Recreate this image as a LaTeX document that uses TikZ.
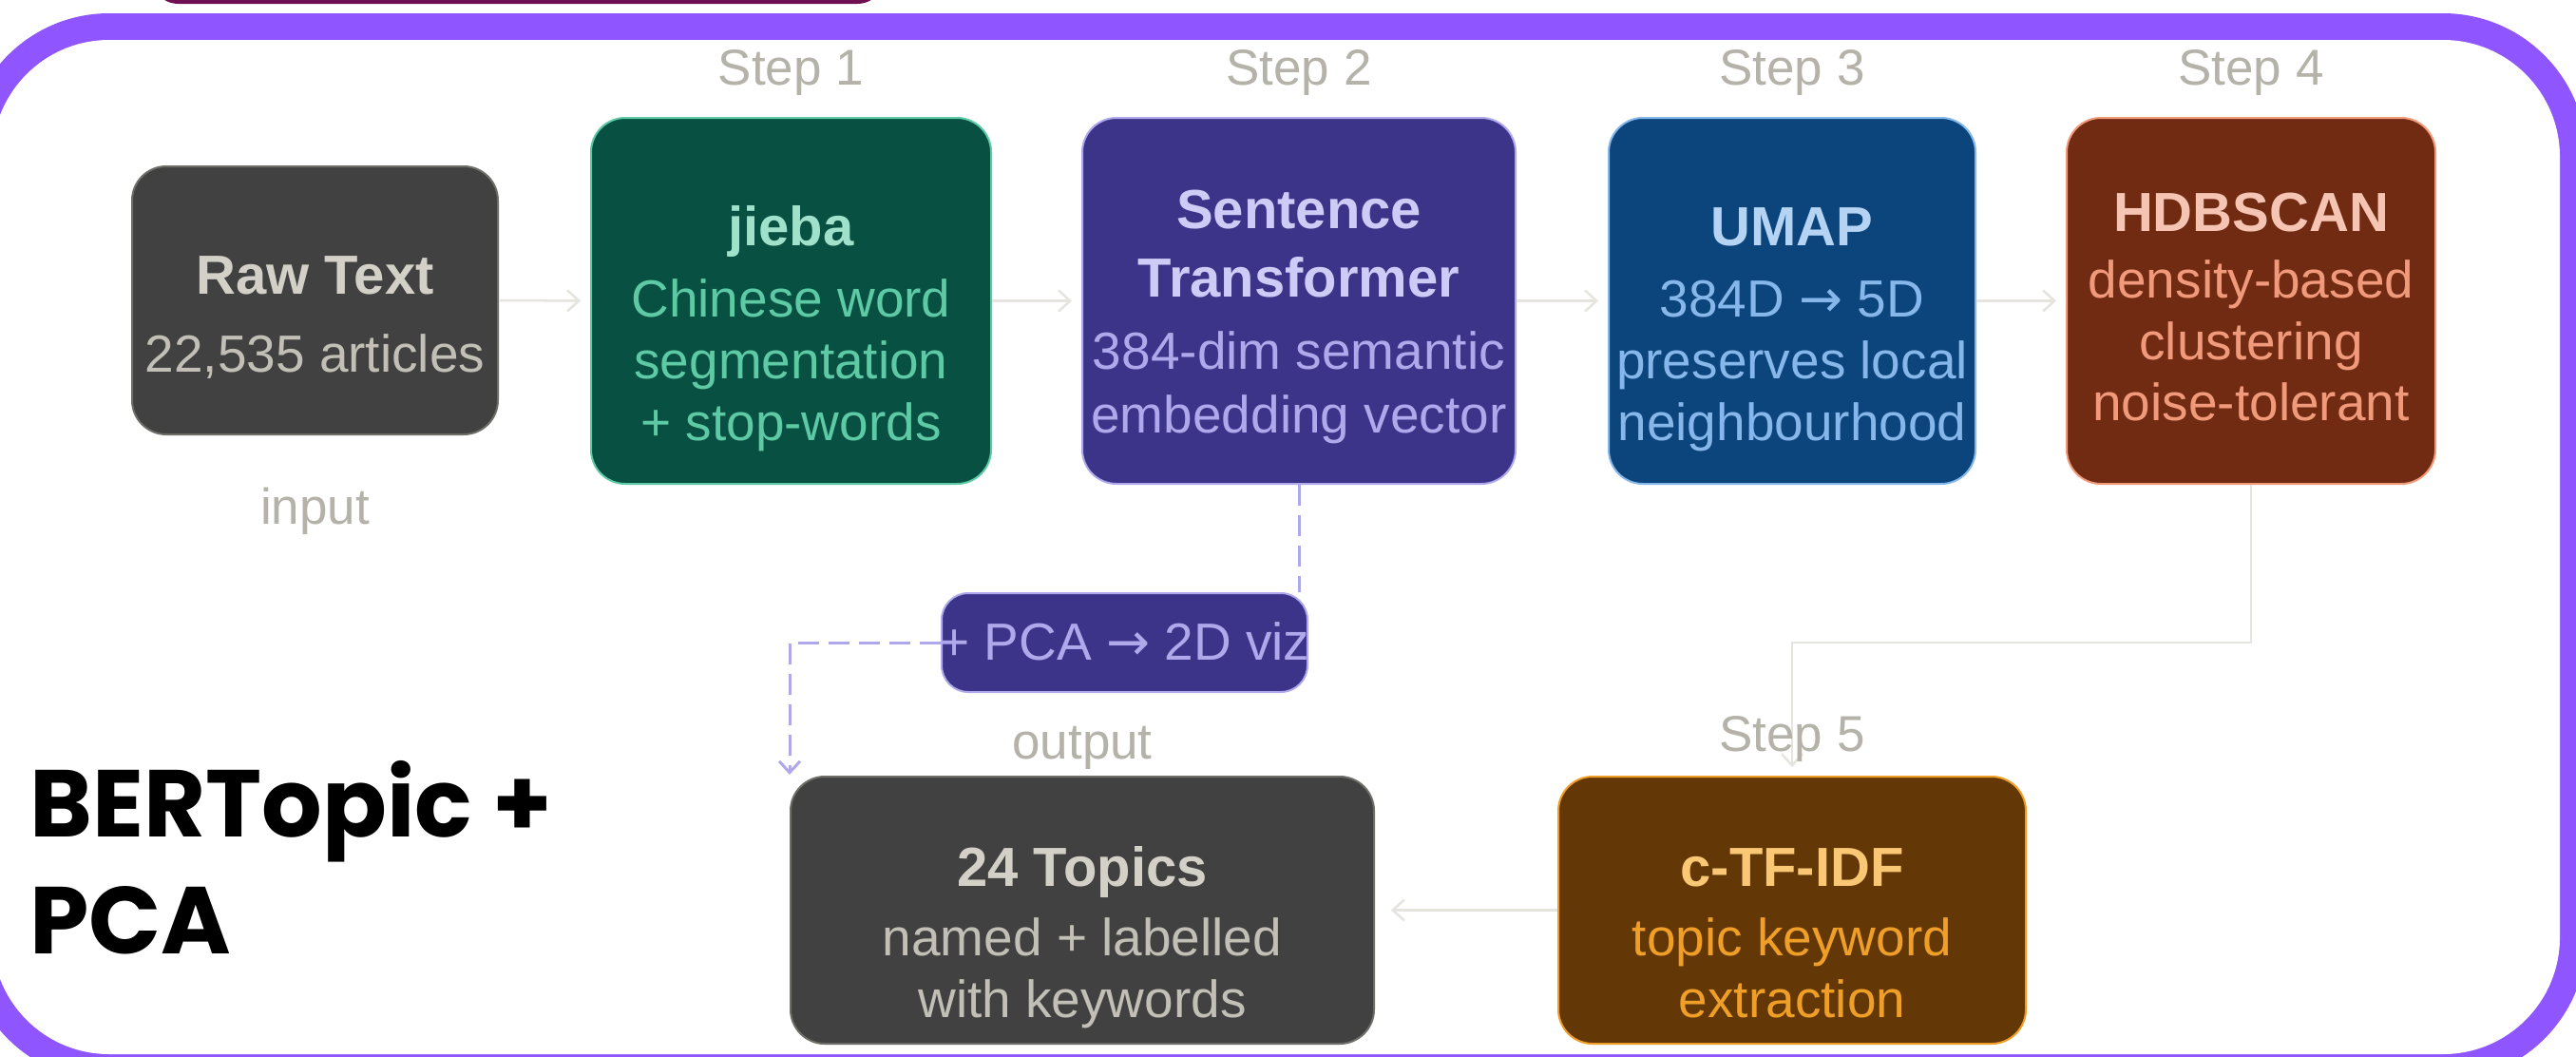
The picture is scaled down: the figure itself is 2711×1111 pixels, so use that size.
\documentclass[tikz,border=0pt]{standalone}
\usepackage{fontspec}
\usepackage{graphicx}
\setmainfont{Liberation Sans}
\newfontfamily\popfont{Poppins}
\newfontfamily\arrfont{DejaVu Sans}
\usetikzlibrary{arrows.meta}
\definecolor{framepurple}{HTML}{8F55FF}
\definecolor{topbar}{HTML}{6F0F52}
\definecolor{grayfill}{HTML}{414141}
\definecolor{grayline}{HTML}{6E6D68}
\definecolor{graytitle}{HTML}{D3D1C7}
\definecolor{graysub}{HTML}{C2C0B6}
\definecolor{tealfill}{HTML}{085041}
\definecolor{tealline}{HTML}{5DCAA5}
\definecolor{tealtitle}{HTML}{9FE1CB}
\definecolor{purpfill}{HTML}{3C3489}
\definecolor{purpline}{HTML}{AFA9EC}
\definecolor{purptitle}{HTML}{CECBF6}
\definecolor{bluefill}{HTML}{0C447C}
\definecolor{blueline}{HTML}{85B7EB}
\definecolor{bluetitle}{HTML}{B5D4F4}
\definecolor{coralfill}{HTML}{712B13}
\definecolor{coralline}{HTML}{F0997B}
\definecolor{coraltitle}{HTML}{F5C4B3}
\definecolor{amberfill}{HTML}{633806}
\definecolor{amberline}{HTML}{EF9F27}
\definecolor{ambertitle}{HTML}{FAC775}
\definecolor{labelgray}{HTML}{B4B2A9}
\definecolor{conngray}{HTML}{E6E4DF}
\newcommand\ttlfont{\fontsize{58pt}{60pt}\selectfont\bfseries}
\newcommand\subfont{\fontsize{55pt}{60pt}\selectfont}
\newcommand\lblfont{\fontsize{53pt}{60pt}\selectfont}
\newcommand\rarr{{\arrfont →}}
\begin{document}
\begin{tikzpicture}[x=1pt,y=-1pt,
  pbox/.style={rounded corners=36pt, line width=2pt, inner sep=0pt},
  ln/.style={inner sep=0pt, anchor=base},
  ttl/.style={ln, font=\ttlfont},
  subl/.style={ln, font=\subfont},
  lbl/.style={ln, font=\lblfont, text=labelgray},
  conn/.style={draw=conngray, line width=2.5pt, -{Straight Barb[length=12pt,width=22pt]}},
  dsh/.style={draw=purpline, line width=3pt, dash pattern=on 22pt off 10pt},
  bigttl/.style={inner sep=0pt, anchor=base west, font=\popfont\bfseries\fontsize{100pt}{100pt}\selectfont},
]
\useasboundingbox (0,0) rectangle (2711,1111);
\clip (0,0) rectangle (2711,1111);
\fill[white] (0,0) rectangle (2711,1111);
% frame
\fill[framepurple, rounded corners=151pt] (-36,14) rectangle (2722,1137);
\fill[white, rounded corners=123pt] (-8,42) rectangle (2694,1109);
\fill[topbar, rounded corners=30pt] (158,-60) rectangle (932,4);

% boxes
\node[pbox, fill=grayfill, draw=grayline, minimum width=385pt, minimum height=282pt] (raw) at (331.5,316) {};
\node[pbox, fill=tealfill, draw=tealline, minimum width=421pt, minimum height=385pt] (jieba) at (832.5,316.5) {};
\node[pbox, fill=purpfill, draw=purpline, minimum width=456pt, minimum height=385pt] (st) at (1367,316.5) {};
\node[pbox, fill=bluefill, draw=blueline, minimum width=386pt, minimum height=385pt] (umap) at (1886,316.5) {};
\node[pbox, fill=coralfill, draw=coralline, minimum width=388pt, minimum height=385pt] (hdb) at (2369,316.5) {};
\node[pbox, fill=grayfill, draw=grayline, minimum width=614pt, minimum height=281pt] (topics) at (1139,957.5) {};
\node[pbox, fill=amberfill, draw=amberline, minimum width=492pt, minimum height=281pt] (ctf) at (1886,957.5) {};
\coordinate (turn) at (2369,676);

% connectors
\draw[conn, shorten >=10pt] (raw.east) -- (jieba.west);
\draw[conn, shorten >=10pt] (jieba.east) -- (st.west);
\draw[conn, shorten >=10pt] (st.east) -- (umap.west);
\draw[conn, shorten >=10pt] (umap.east) -- (hdb.west);
\draw[conn, shorten >=9pt] (hdb.south) -- (turn) -- (ctf.north |- turn) -- (ctf.north);
\draw[conn, shorten >=17pt] (ctf.west) -- (topics.east);

% PCA branch
\node[pbox, rounded corners=28pt, fill=purpfill, draw=purpline, minimum width=385pt, minimum height=104pt] (pca) at (1183.5,676) {};
\draw[dsh] (st.south) -- (st.south |- pca.north);
\draw[dsh, -{Straight Barb[length=12pt,width=22pt]}, shorten >=1pt] (pca.west) -| (topics.north west);

% texts in boxes
\node[ttl, text=graytitle] (rawT) at (331.5,309) {Raw Text};
\node[subl, text=graysub] (rawS) at (331.5,391) {22,535 articles};

\node[ttl, text=tealtitle] (jiebaT) at (832.5,258) {jieba};
\node[subl, text=tealline] (jiebaS1) at (832.5,333) {Chinese word};
\node[subl, text=tealline] (jiebaS2) at (832.5,398) {segmentation};
\node[subl, text=tealline] (jiebaS3) at (832.5,463) {+ stop-words};

\node[ttl, text=purptitle] (stT1) at (1367,240) {Sentence};
\node[ttl, text=purptitle] (stT2) at (1367,312) {Transformer};
\node[subl, text=purpline] (stS1) at (1367,388) {384-dim semantic};
\node[subl, text=purpline] (stS2) at (1367,455) {embedding vector};

\node[ttl, text=bluetitle] (umapT) at (1886,258) {UMAP};
\node[subl, text=blueline] (umapS1) at (1886,333) {384D \rarr{} 5D};
\node[subl, text=blueline] (umapS2) at (1886,398) {preserves local};
\node[subl, text=blueline] (umapS3) at (1886,463) {neighbourhood};

\node[ttl, text=coraltitle] (hdbT) at (2369,243) {HDBSCAN};
\node[subl, text=coralline] (hdbS1) at (2369,313) {density-based};
\node[subl, text=coralline] (hdbS2) at (2369,378) {clustering};
\node[subl, text=coralline] (hdbS3) at (2369,442) {noise-tolerant};

\node[subl, text=purpline] (pcaS) at (1183.5,694) {+ PCA \rarr{} 2D viz};

\node[ttl, text=graytitle] (topicsT) at (1139,932) {24 Topics};
\node[subl, text=graysub] (topicsS1) at (1139,1005) {named + labelled};
\node[subl, text=graysub] (topicsS2) at (1139,1070) {with keywords};

\node[ttl, text=ambertitle] (ctfT) at (1886,932) {c-TF-IDF};
\node[subl, text=amberline] (ctfS1) at (1886,1005) {topic keyword};
\node[subl, text=amberline] (ctfS2) at (1886,1070) {extraction};

% labels
\node[lbl] (step1) at (832.5,89) {Step 1};
\node[lbl] (step2) at (1367,89) {Step 2};
\node[lbl] (step3) at (1886,89) {Step 3};
\node[lbl] (step4) at (2369,89) {Step 4};
\node[lbl] (step5) at (1886,790) {Step 5};
\node[lbl] (inputL) at (331.5,551) {input};
\node[lbl] (outputL) at (1139,798) {output};

% big title
\node[bigttl] (bigT1) at (31,880) {BERTopic +};
\node[bigttl] (bigT2) at (31,1003) {PCA};
\end{tikzpicture}
\end{document}
